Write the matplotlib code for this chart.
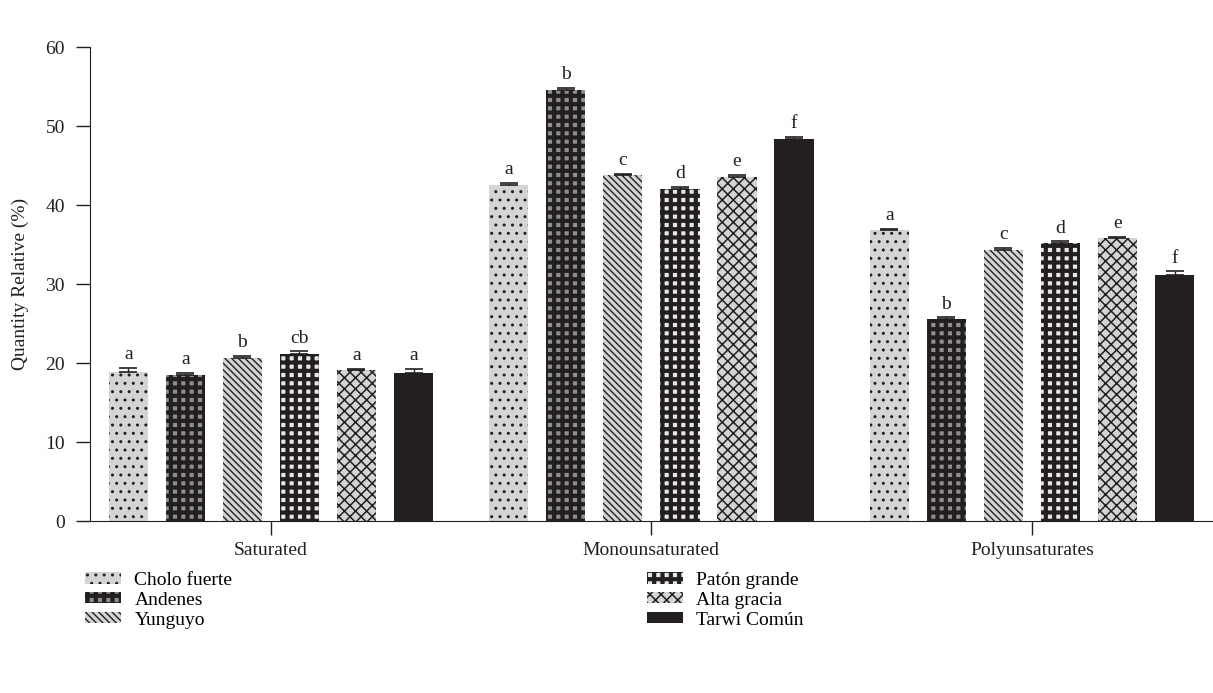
import matplotlib as mpl
import matplotlib.pyplot as plt
import matplotlib.patches as mpatches
import numpy as np

plt.rcParams['font.family'] = ['Liberation Serif', 'DejaVu Serif']

groups = ['Saturated', 'Monounsaturated', 'Polyunsaturates']
varieties = ['Cholo fuerte', 'Andenes', 'Yunguyo', 'Patón grande', 'Alta gracia', 'Tarwi Común']

# rows: varieties, columns: groups
values = [
    [18.9, 42.6, 36.8],
    [18.5, 54.6, 25.6],
    [20.7, 43.8, 34.3],
    [21.2, 42.1, 35.2],
    [19.1, 43.5, 35.8],
    [18.8, 48.4, 31.2],
]
errors = [
    [0.5, 0.2, 0.2],
    [0.3, 0.2, 0.2],
    [0.2, 0.2, 0.3],
    [0.3, 0.2, 0.2],
    [0.2, 0.3, 0.2],
    [0.5, 0.2, 0.4],
]
letters = [
    ['a', 'a', 'a'],
    ['a', 'b', 'b'],
    ['b', 'c', 'c'],
    ['cb', 'd', 'd'],
    ['a', 'e', 'e'],
    ['a', 'f', 'f'],
]

# face colour, hatch colour, hatch, hatch line width
styles = [
    ('#d4d4d4', '#231f20', '..', 1.0),
    ('#8e8e8e', '#231f20', '++', 3.0),
    ('#d4d4d4', '#231f20', '\\\\\\\\\\', 1.0),
    ('#e6e6e6', '#231f20', '++', 3.0),
    ('#d4d4d4', '#231f20', 'xxx', 1.1),
    ('#231f20', '#231f20', '', 1.0),
]

fig = plt.figure(figsize=(12.13, 6.93), dpi=100)
ax = fig.add_axes([0.074, 0.248, 0.926, 0.684])

x = np.arange(len(groups))
step = 0.15
width = 0.103
handles = []
for i, name in enumerate(varieties):
    pos = x + (i - 2.5) * step
    face, hcol, hatch, hlw = styles[i]
    with mpl.rc_context({'hatch.linewidth': hlw}):
        ax.bar(pos, values[i], width, color=face, edgecolor=hcol, hatch=hatch,
               linewidth=0)
        handles.append(mpatches.Patch(facecolor=face, edgecolor=hcol,
                                      hatch=hatch, linewidth=0, label=name))
    ax.errorbar(pos, values[i], yerr=[np.zeros(3), errors[i]], fmt='none',
                ecolor='#231f20', elinewidth=1, capsize=6.5, capthick=1.2)
    for j in range(3):
        ax.text(pos[j], values[i][j] + errors[i][j] + 0.6, letters[i][j],
                ha='center', va='bottom', fontsize=14, color='#231f20')

ax.set_xlim(-0.476, 2.476)
ax.set_ylim(0, 60)
ax.set_yticks(range(0, 61, 10))
ax.set_xticks(x)
ax.set_xticklabels(groups, fontsize=14)
ax.tick_params(axis='y', labelsize=14, length=10, width=1, colors='#231f20', pad=8)
ax.tick_params(axis='x', length=10, width=1, colors='#231f20', pad=5)
ax.set_ylabel('Quantity Relative (%)', fontsize=14, color='#231f20')
ax.yaxis.set_label_coords(-0.054, 0.5)
for s in ['top', 'right']:
    ax.spines[s].set_visible(False)
for s in ['left', 'bottom']:
    ax.spines[s].set_color('#231f20')

leg = fig.legend(handles=handles, loc='upper left', bbox_to_anchor=(0.056, 0.2), ncol=2,
                 frameon=False, fontsize=14, handlelength=1.85, handleheight=0.5,
                 columnspacing=21.3, labelspacing=0.15, handletextpad=0.67)
# legend copies of the patches lose the per-style hatch width
for p, st in zip(leg.get_patches(), styles):
    p._hatch_linewidth = st[3]

fig.savefig('out.png', dpi=100)
